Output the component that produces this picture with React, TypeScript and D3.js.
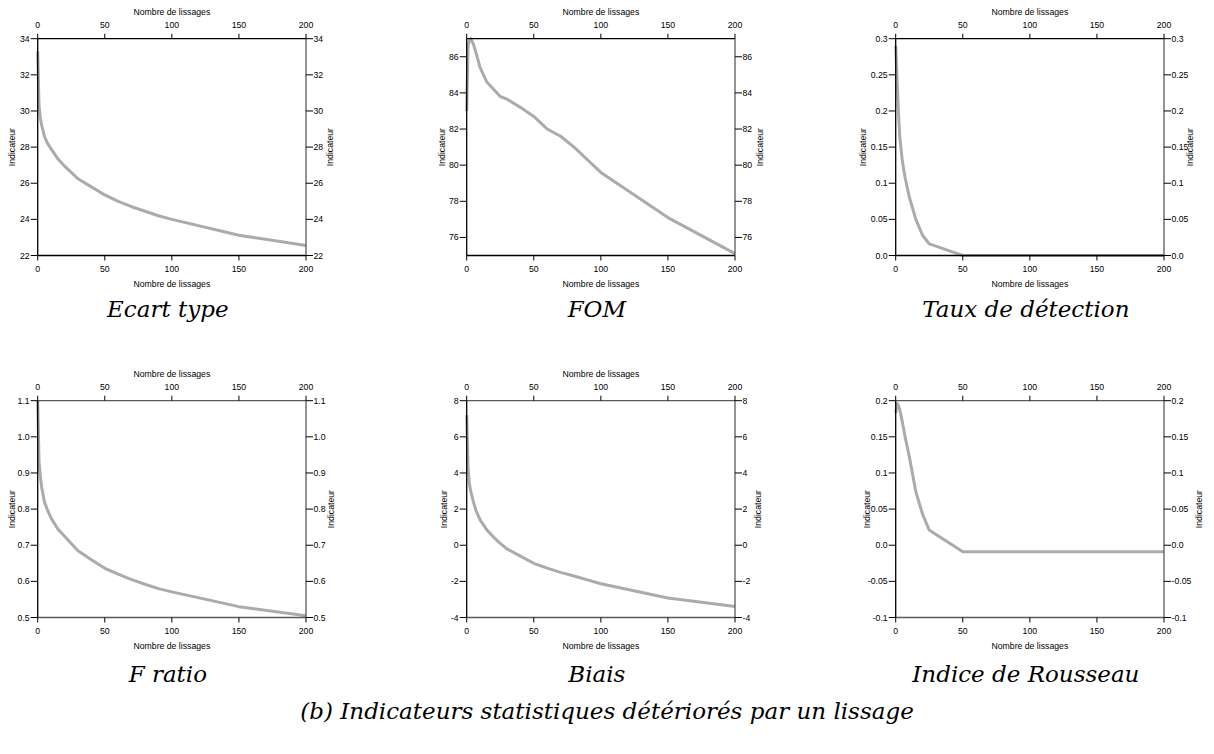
import React from "react";
import * as d3 from "d3";

const X = [0, 1, 2, 3, 5, 7, 10, 15, 20, 25, 30, 40, 50, 60, 70, 80, 90, 100, 150, 200];

const ecartType = [33.3, 30.3, 29.6, 29.2, 28.6, 28.25, 27.9, 27.35, 26.95, 26.6, 26.25, 25.8, 25.35, 25.0, 24.7, 24.45, 24.2, 24.0, 23.12, 22.55];
const fom = [83.0, 86.6, 86.9, 87.0, 86.7, 86.2, 85.4, 84.6, 84.2, 83.8, 83.65, 83.2, 82.7, 82.0, 81.6, 81.0, 80.3, 79.6, 77.1, 75.1];
const tauxDetection = [0.29, 0.245, 0.2, 0.165, 0.13, 0.108, 0.082, 0.05, 0.028, 0.016, 0.013, 0.0065, 0.0, 0, 0, 0, 0, 0, 0, 0];
const fRatio = [1.1, 0.93, 0.89, 0.86, 0.82, 0.8, 0.775, 0.745, 0.725, 0.705, 0.685, 0.66, 0.636, 0.62, 0.605, 0.592, 0.58, 0.571, 0.53, 0.505];
const biais = [7.2, 4.3, 3.4, 3.0, 2.4, 1.9, 1.4, 0.85, 0.45, 0.1, -0.2, -0.6, -1.0, -1.27, -1.5, -1.7, -1.92, -2.13, -2.92, -3.39];
const rousseau = [0.183, 0.196, 0.193, 0.188, 0.17, 0.15, 0.124, 0.074, 0.043, 0.021, 0.015, 0.003, -0.009, -0.009, -0.009, -0.009, -0.009, -0.009, -0.009, -0.009];

const xTicks = [0, 50, 100, 150, 200];
const ecartTicks = [22, 24, 26, 28, 30, 32, 34];
const fomTicks = [76, 78, 80, 82, 84, 86];
const tauxTicks = [0, 0.05, 0.1, 0.15, 0.2, 0.25, 0.3];
const tauxLabels = ["0.0", "0.05", "0.1", "0.15", "0.2", "0.25", "0.3"];
const fRatioTicks = [0.5, 0.6, 0.7, 0.8, 0.9, 1.0, 1.1];
const fRatioLabels = ["0.5", "0.6", "0.7", "0.8", "0.9", "1.0", "1.1"];
const biaisTicks = [-4, -2, 0, 2, 4, 6, 8];
const rousseauTicks = [-0.1, -0.05, 0, 0.05, 0.1, 0.15, 0.2];
const rousseauLabels = ["-0.1", "-0.05", "0.0", "0.05", "0.1", "0.15", "0.2"];

const captions = ["Ecart type", "FOM", "Taux de détection", "F ratio", "Biais", "Indice de Rousseau"];
const mainCaption = "(b) Indicateurs statistiques détériorés par un lissage";
const xTitle = "Nombre de lissages";
const yTitle = "Indicateur";

type Panel = {
  values: number[];
  domain: [number, number];
  ticks: number[];
  labels: string[];
  col: number;
  row: number;
  lOff: number;
  rOff: number;
  topTitle: boolean;
  row2: boolean;
};

const panels: Panel[] = [
  { values: ecartType, domain: [22, 34], ticks: ecartTicks, labels: ecartTicks.map(String), col: 0, row: 0, lOff: 26, rOff: 24, topTitle: true, row2: false },
  { values: fom, domain: [75, 87], ticks: fomTicks, labels: fomTicks.map(String), col: 1, row: 0, lOff: 25, rOff: 25, topTitle: true, row2: false },
  { values: tauxDetection, domain: [0, 0.3], ticks: tauxTicks, labels: tauxLabels, col: 2, row: 0, lOff: 33, rOff: 26, topTitle: true, row2: false },
  { values: fRatio, domain: [0.5, 1.1], ticks: fRatioTicks, labels: fRatioLabels, col: 0, row: 1, lOff: 26, rOff: 25, topTitle: true, row2: true },
  { values: biais, domain: [-4, 8], ticks: biaisTicks, labels: biaisTicks.map(String), col: 1, row: 1, lOff: 23, rOff: 23, topTitle: true, row2: true },
  { values: rousseau, domain: [-0.1, 0.2], ticks: rousseauTicks, labels: rousseauLabels, col: 2, row: 1, lOff: 29, rOff: 35, topTitle: false, row2: true },
];

const W = 1214;
const H = 754;
const PW = 268.3;
const PH = 216.8;
const lefts = [37.7, 466.7, 895.7];
const tops = [38.7, 400.7];
const FONT = "'Liberation Sans', Arial, Helvetica, sans-serif";
const FS = 8.7;
const CAP_FONT = "'DejaVu Serif', serif";
const CAP_FS = 23;

function PanelView({ p, caption }: { p: Panel; caption: string }) {
  const x0 = lefts[p.col];
  const y0 = tops[p.row];
  const xs = d3.scaleLinear().domain([0, 200]).range([x0, x0 + PW]);
  const ys = d3.scaleLinear().domain(p.domain).range([y0 + PH, y0]);
  const line = d3
    .line<number>()
    .x((_, i) => xs(X[i]))
    .y((v) => ys(v));
  const x1 = x0 + PW;
  const y1 = y0 + PH;
  const dark = "#000";
  const grey = "#5a5a5a";
  const topColor = p.row2 ? grey : dark;
  const botColor = p.row2 ? grey : dark;
  const midY = (y0 + y1) / 2;
  return (
    <g>
      <path d={line(p.values) || ""} fill="none" stroke="#ababab" strokeWidth={3} strokeLinejoin="round" strokeLinecap="butt" />
      <line x1={x0} x2={x1} y1={y0} y2={y0} stroke={topColor} strokeWidth={1.3} />
      <line x1={x0} x2={x1} y1={y1} y2={y1} stroke={botColor} strokeWidth={1.3} />
      <line x1={x1} x2={x1} y1={y0} y2={y1} stroke={grey} strokeWidth={1.3} />
      <line x1={x0} x2={x0} y1={y0} y2={y1} stroke={dark} strokeWidth={1.3} />
      {xTicks.map((t) => (
        <g key={"x" + t}>
          <line x1={xs(t)} x2={xs(t)} y1={y0} y2={y0 - 5} stroke={dark} strokeWidth={1} />
          <line x1={xs(t)} x2={xs(t)} y1={y1} y2={y1 + 5} stroke={dark} strokeWidth={1} />
          <text x={xs(t)} y={y0 - 13.7} textAnchor="middle" dominantBaseline="central" fontSize={FS} fontFamily={FONT}>
            {t}
          </text>
          <text x={xs(t)} y={y1 + 13.7} textAnchor="middle" dominantBaseline="central" fontSize={FS} fontFamily={FONT}>
            {t}
          </text>
        </g>
      ))}
      {p.topTitle && (
        <text x={(x0 + x1) / 2} y={y0 - 26.4} textAnchor="middle" dominantBaseline="central" fontSize={FS} fontFamily={FONT}>
          {xTitle}
        </text>
      )}
      <text x={(x0 + x1) / 2} y={y1 + 28} textAnchor="middle" dominantBaseline="central" fontSize={FS} fontFamily={FONT}>
        {xTitle}
      </text>
      {p.ticks.map((t, i) => (
        <g key={"y" + i}>
          <line x1={x0 - 7} x2={x0} y1={ys(t)} y2={ys(t)} stroke={dark} strokeWidth={1} />
          <line x1={x1} x2={x1 + 7} y1={ys(t)} y2={ys(t)} stroke={dark} strokeWidth={1} />
          <text x={x0 - 8} y={ys(t)} textAnchor="end" dominantBaseline="central" fontSize={FS} fontFamily={FONT}>
            {p.labels[i]}
          </text>
          <text x={x1 + 7.5} y={ys(t)} textAnchor="start" dominantBaseline="central" fontSize={FS} fontFamily={FONT}>
            {p.labels[i]}
          </text>
        </g>
      ))}
      <text transform={`translate(${x0 - p.lOff},${midY}) rotate(-90)`} textAnchor="middle" dominantBaseline="central" fontSize={FS} fontFamily={FONT}>
        {yTitle}
      </text>
      <text transform={`translate(${x1 + p.rOff},${midY}) rotate(-90)`} textAnchor="middle" dominantBaseline="central" fontSize={FS} fontFamily={FONT}>
        {yTitle}
      </text>
      <text x={(x0 + x1) / 2 - 4} y={p.row === 0 ? 317 : 682} textAnchor="middle" fontSize={CAP_FS} fontStyle="italic" fontFamily={CAP_FONT}>
        {caption}
      </text>
    </g>
  );
}

export default function App() {
  return (
    <svg width={W} height={H} style={{ position: "absolute", left: 0, top: 0, background: "#fff" }}>
      <rect width={W} height={H} fill="#fff" />
      {panels.map((p, i) => (
        <PanelView key={i} p={p} caption={captions[i]} />
      ))}
      <text x={W / 2} y={719} textAnchor="middle" fontSize={CAP_FS} fontStyle="italic" fontFamily={CAP_FONT}>
        {mainCaption}
      </text>
    </svg>
  );
}
